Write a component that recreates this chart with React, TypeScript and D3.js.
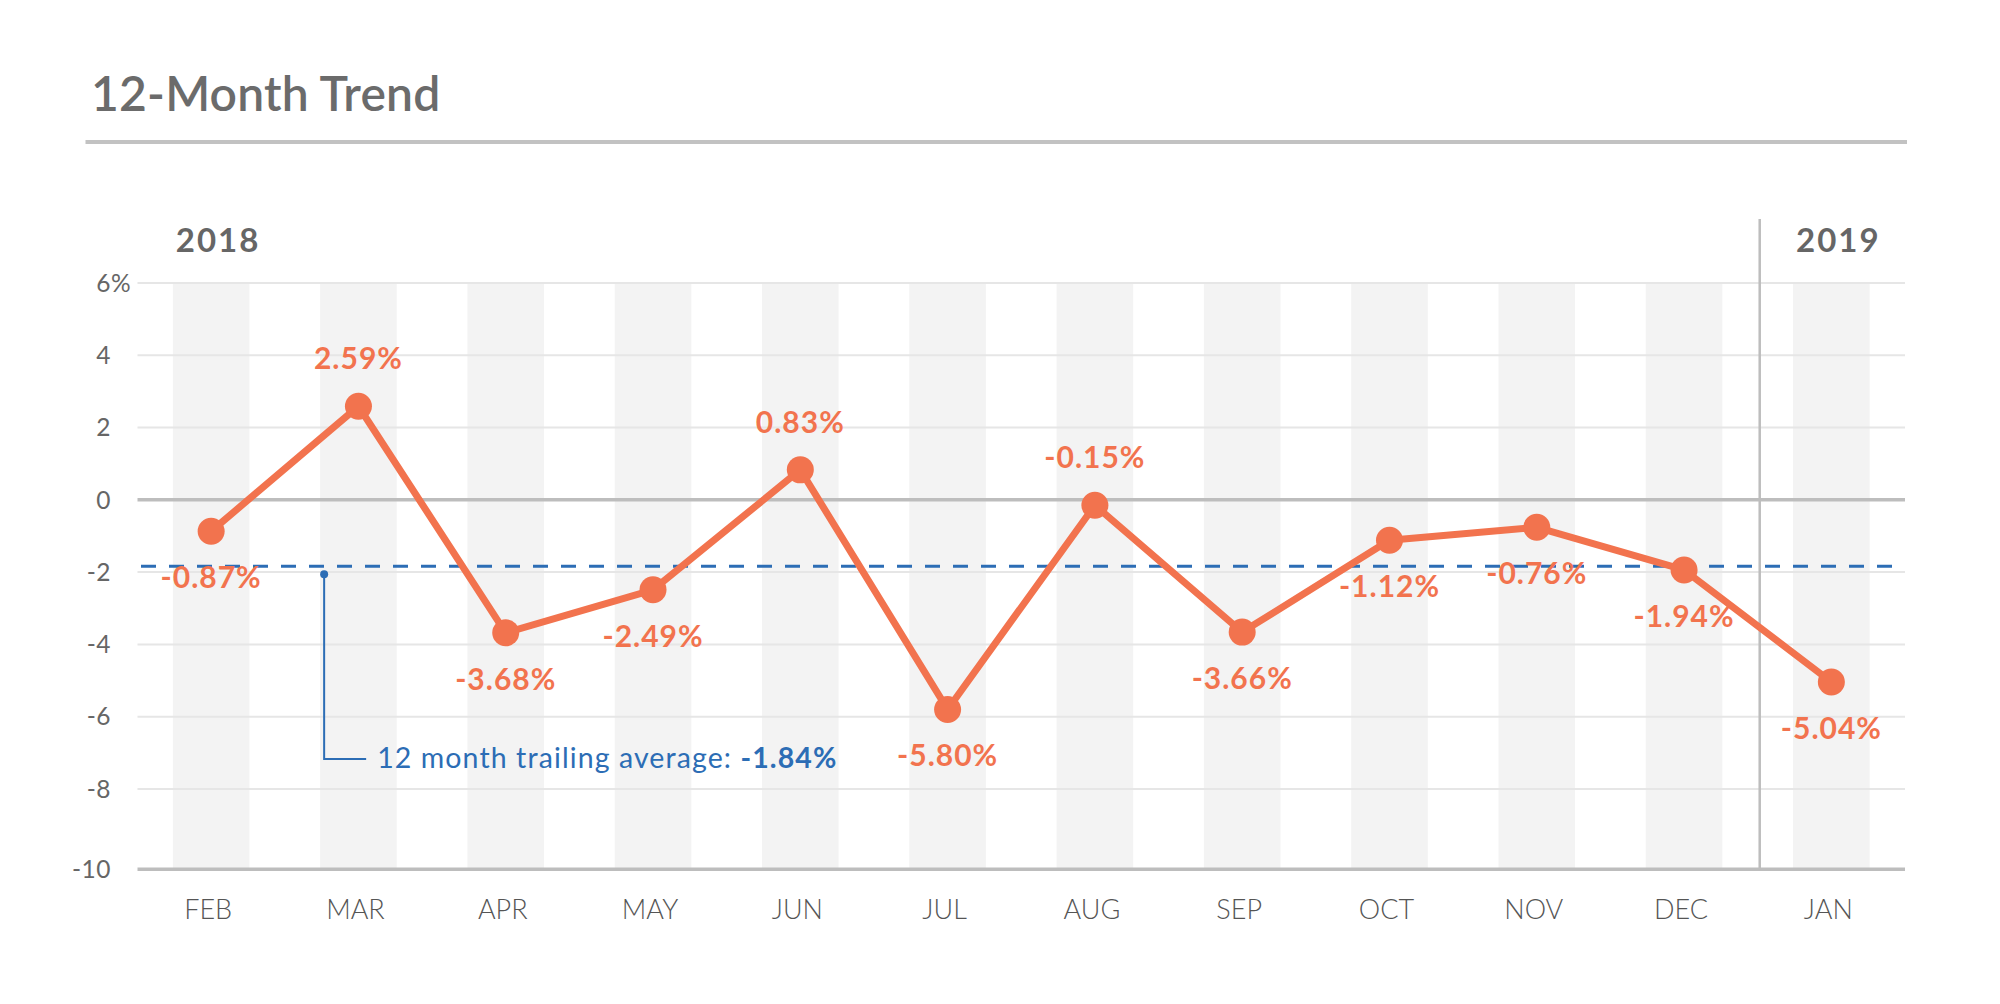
import React from "react";
import * as d3 from "d3";

const months = ["FEB", "MAR", "APR", "MAY", "JUN", "JUL", "AUG", "SEP", "OCT", "NOV", "DEC", "JAN"];
const values = [-0.87, 2.59, -3.68, -2.49, 0.83, -5.8, -0.15, -3.66, -1.12, -0.76, -1.94, -5.04];
const labelPlacement = ["below", "above", "below", "below", "above", "below", "above", "below", "below", "below", "below", "below"];
const yTicks = [6, 4, 2, 0, -2, -4, -6, -8];
const yMin = -10;
const yMax = 6;
const trailingAverage = -1.84;
const yearLabels = [
  { label: "2018", month: "FEB" },
  { label: "2019", month: "JAN" },
];
const yearBoundaryAfter = "DEC";
const title = "12-Month Trend";
const annotationText = "12 month trailing average: ";

const W = 2000;
const H = 1004;
const ORANGE = "#f2734e";
const BLUE = "#2c6db5";
const FONT = "Lato, 'Open Sans', sans-serif";

export default function App() {
  const left = 137.5;
  const right = 1905;
  const y = d3.scaleLinear().domain([yMin, yMax]).range([861.2, 283]);
  const x = d3
    .scaleBand<string>()
    .domain(months)
    .range([left, right])
    .paddingInner(0.48)
    .paddingOuter(0.24);
  const bw = x.bandwidth();
  const cx = (m: string) => (x(m) as number) + bw / 2;
  const baseY = y(yMin) + 8;
  const topY = y(yMax);

  const line = d3
    .line<number>()
    .x((_, i) => cx(months[i]))
    .y((d) => y(d));

  const sepIdx = months.indexOf(yearBoundaryAfter);
  const sepX = (cx(months[sepIdx]) + cx(months[sepIdx + 1])) / 2 + 2;
  const annX = (x("MAR") as number) + 4;
  const annBottom = 759;

  return (
    <svg
      width={W}
      height={H}
      style={{ position: "absolute", left: 0, top: 0, background: "#fff" }}
      fontFamily={FONT}
    >
      <rect x={0} y={0} width={W} height={H} fill="#fff" />
      {/* Title */}
      <text x={91} y={111} fontSize={48} fontWeight={600} fill="#6b6b6b" letterSpacing={0.2}>
        {title}
      </text>
      <line x1={85.5} x2={1907} y1={142} y2={142} stroke="#c2c2c2" strokeWidth={4} />

      {/* bands */}
      {months.map((m) => (
        <rect key={m} x={x(m)} y={topY} width={bw} height={baseY - topY} fill="#f3f3f3" />
      ))}

      {/* gridlines */}
      {yTicks
        .filter((t) => t !== 0)
        .map((t) => (
          <line key={t} x1={left} x2={right} y1={y(t)} y2={y(t)} stroke="#e6e6e6" strokeWidth={2} />
        ))}
      <line x1={left} x2={right} y1={y(0)} y2={y(0)} stroke="#bdbdbd" strokeWidth={3.5} />
      <line x1={left} x2={right} y1={baseY} y2={baseY} stroke="#bdbdbd" strokeWidth={3.5} />

      {/* year separator */}
      <line x1={sepX} x2={sepX} y1={219} y2={baseY} stroke="#bdbdbd" strokeWidth={2.5} />

      {/* year labels */}
      {yearLabels.map((yl) => (
        <text
          key={yl.label}
          x={(x(yl.month) as number) + 3}
          y={252}
          fontSize={33}
          fontWeight={700}
          fill="#666"
          letterSpacing={2}
        >
          {yl.label}
        </text>
      ))}

      {/* y tick labels */}
      {yTicks.map((t) => (
        <text key={t} x={111} y={y(t)} dy="0.36em" fontSize={24.5} fill="#666" textAnchor="end" letterSpacing={0.5}>
          {t}
        </text>
      ))}
      <text x={111} y={y(yMax)} dy="0.36em" fontSize={24.5} fill="#666">
        %
      </text>
      <text x={111} y={baseY} dy="0.36em" fontSize={24.5} fill="#666" textAnchor="end" letterSpacing={0.5}>
        {yMin}
      </text>

      {/* x labels */}
      {months.map((m) => (
        <text key={m} x={cx(m) - 3} y={919} fontSize={27} fontWeight={300} fill="#555" textAnchor="middle">
          {m}
        </text>
      ))}

      {/* trailing average */}
      <line
        x1={141}
        x2={right}
        y1={y(trailingAverage)}
        y2={y(trailingAverage)}
        stroke={BLUE}
        strokeWidth={3}
        strokeDasharray="15 13"
      />
      <circle cx={annX} cy={y(trailingAverage) + 8} r={4} fill={BLUE} />
      <path
        d={`M${annX},${y(trailingAverage) + 8}V${annBottom}H${annX + 42}`}
        fill="none"
        stroke={BLUE}
        strokeWidth={2}
      />
      <text x={annX + 53} y={768} fontSize={28.5} fill={BLUE} letterSpacing={1.1}>
        {annotationText}
        <tspan fontWeight={700}>{`${trailingAverage.toFixed(2)}%`}</tspan>
      </text>

      {/* series */}
      <path d={line(values) || ""} fill="none" stroke={ORANGE} strokeWidth={7} strokeLinejoin="round" />
      {values.map((v, i) => (
        <circle key={months[i]} cx={cx(months[i])} cy={y(v)} r={13.5} fill={ORANGE} />
      ))}
      {values.map((v, i) => (
        <text
          key={"l" + months[i]}
          x={cx(months[i])}
          y={labelPlacement[i] === "above" ? y(v) - 37 : y(v) + 57}
          fontSize={30}
          fontWeight={700}
          fill={ORANGE}
          textAnchor="middle"
          letterSpacing={1}
        >
          {`${v.toFixed(2)}%`}
        </text>
      ))}
    </svg>
  );
}
